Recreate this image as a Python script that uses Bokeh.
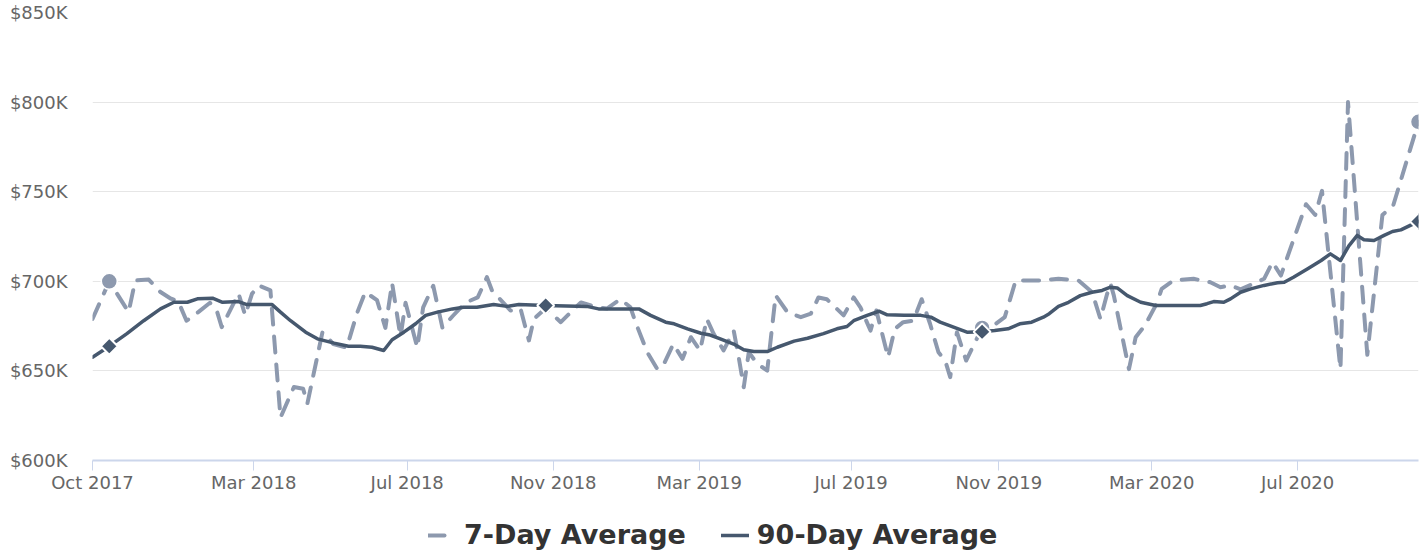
import math
from bokeh.plotting import figure
from bokeh.layouts import column
from bokeh.models import (Range1d, FixedTicker, PrintfTickFormatter, Legend,
                          LegendItem, ColumnDataSource)
from bokeh.embed import file_html
from bokeh.resources import INLINE

# ---- data (x = week index from start of Oct 2017, y = price in $K) ----
week_7day = [
    0, 2, 4.3, 5.1, 6.7, 8.1, 9.3, 10.2, 11.2, 12.6,
    14.0, 14.8, 15.4, 17.4, 18.2, 19.0, 19.8, 21.2, 22.4, 24.0,
    25.1, 25.6, 27.4, 28.7, 30.3, 31.5, 32.5, 33.9, 34.9, 35.7,
    36.7, 37.3, 38.7, 39.4, 40.6, 41.7, 42.9, 44.4, 45.9, 47.0,
    47.6, 49.8, 51.0, 52.0, 52.6, 54, 55.8, 57.0, 58.2, 60.1,
    61.3, 62.9, 64.1, 64.7, 66.1, 67.3, 68.0, 69.2, 70.3, 71.3,
    72.4, 73.2, 74.0, 75.2, 76.4, 77.0, 77.6, 78.2, 79.2, 80.4,
    81.4, 82.8, 84.4, 85.6, 86.5, 87.5, 89.5, 90.7, 91.5, 92.7,
    93.4, 94.0, 94.8, 95.6, 96.6, 97.8, 98.8, 99.8, 100.8, 101.6,
    102.2, 103.0, 104.1, 106, 107.1, 108.7, 110.0, 112.8, 115.1, 117.5,
    119.1, 120.1, 120.9, 121.3, 121.7, 123.5, 124.3, 125.4, 126.8, 127.4,
    128.8, 131.2, 133.2, 134.4, 135.6, 136.8, 139.6, 140.6, 141.6, 144.6,
    145.7, 146.5, 148.7, 149.6, 151.9, 153.7, 155.0, 158,
]
avg_7day = [
    679, 700, 682.8, 700.5, 701, 694, 690.4, 689, 678, 682.8,
    688, 683.7, 674.4, 693.2, 681, 693, 697.7, 694.9, 624, 641,
    640, 631.7, 671.6, 665, 663, 682, 694, 689.5, 674, 699,
    669, 688, 663, 685.5, 697.5, 674, 680.5, 688, 691, 702.3,
    694.9, 683.7, 684.8, 667, 679, 685, 677.2, 682.8, 688.2, 685.5,
    684.8, 690, 685.5, 677.2, 660.4, 651, 653, 665, 656.7, 668.8,
    661.4, 679, 670.8, 661.4, 672.5, 657.6, 640.9, 660.4, 654, 650.2,
    692.1, 682.8, 680, 682, 691, 690, 681, 691, 685.5, 672.5,
    683.7, 672.5, 657.6, 673.5, 677.2, 678, 690, 676.3, 660.4, 655.8,
    646.5, 671.6, 655.8, 674, 674.4, 680, 700.4, 700.4, 701.4, 700.4,
    694, 679, 693, 698.6, 692, 651, 668.8, 675.3, 687.5, 695.8,
    700.4, 701.4, 699.5, 696.7, 697.7, 695.5, 701.4, 710.7, 703.2, 743,
    737, 750.5, 651, 800, 659, 737, 742.5, 789,
]
week_90day = [
    0, 2, 4.1, 6.1, 8.1, 9.7, 11.3, 12.5, 14.3, 15.5,
    17.4, 18.4, 21.4, 22.4, 23.6, 25.4, 26.8, 28.8, 30.5, 31.9,
    33.3, 34.7, 35.7, 37.1, 38.5, 39.7, 41.1, 42.9, 44.2, 45.8,
    47.8, 49.4, 50.8, 54, 58.9, 60.3, 62.3, 65.1, 66.5, 68.3,
    69.3, 70.9, 72.5, 73.6, 74.8, 76.4, 77.6, 78.8, 80.4, 81.6,
    83.6, 85.2, 87.1, 88.7, 89.9, 90.7, 92.3, 93.7, 94.7, 96.7,
    98.7, 99.9, 101.0, 102.6, 104.2, 106, 107.5, 109.1, 110.5, 111.9,
    113.3, 114.0, 115.1, 116.3, 117.7, 119.1, 120.3, 121.3, 122.1, 123.3,
    124.9, 126.7, 128.8, 132.0, 132.8, 133.6, 134.8, 135.6, 136.8, 138.0,
    139.6, 141.2, 142.0, 143.1, 144.8, 146.4, 147.5, 148.7, 149.7, 150.7,
    151.5, 152.7, 153.9, 154.9, 155.9, 158,
]
avg_90day = [
    657.6, 663.8, 670.8, 678, 684.6, 688.3, 688.3, 690.2, 690.6, 688.3,
    688.7, 687, 687, 682.8, 678, 671.6, 667.9, 665.5, 663.8, 663.8,
    663.2, 661.4, 667.4, 671.6, 676.3, 681, 682.8, 684.6, 685.5, 685.5,
    687, 686, 687, 686.5, 686, 684.6, 684.6, 684.6, 681, 677.2,
    676.3, 673.5, 671, 670, 667.9, 665, 661.8, 660.8, 660.8, 663.2,
    666.6, 668.2, 670.8, 673.5, 674.8, 678, 681, 683.3, 681.3, 681,
    681, 680, 677.2, 674.4, 671.6, 671.8, 672.5, 673.5, 676.3, 677.2,
    680, 681.9, 686, 688.3, 692, 693.9, 694.9, 696.7, 696.3, 692,
    688.3, 686.5, 686.5, 686.5, 687.5, 688.7, 688.3, 690.2, 693.9, 695.8,
    697.7, 699.2, 699.5, 702.3, 707, 711.6, 715.3, 711.6, 719.8, 725.6,
    723.2, 722.8, 725.6, 727.8, 728.7, 733.4,
]
# highlighted points
mark_7day_weeks = [2, 106, 158]
mark_7day_vals = [700, 674, 789]
mark_90day_weeks = [2, 54, 106, 158]
mark_90day_vals = [663.8, 686.5, 671.8, 733.4]

# axes
tick_weeks = [0, 19.2, 37.5, 54.9, 72.3, 90.4, 108.0, 126.2, 143.6]
tick_labels = ["Oct 2017", "Mar 2018", "Jul 2018", "Nov 2018", "Mar 2019",
               "Jul 2019", "Nov 2019", "Mar 2020", "Jul 2020"]
y_ticks = [600, 650, 700, 750, 800, 850]
series_names = ["7-Day Average", "90-Day Average"]

assert len(week_7day) == len(avg_7day)
assert len(week_90day) == len(avg_90day)

C7 = "#8D99AE"
C90 = "#46586E"
FONT = "DejaVu Sans"
W7 = dict(line_color=C7, line_width=4, line_dash="16 12",
          line_cap="round", line_join="round")
W90 = dict(line_color=C90, line_width=3.5, line_join="round", line_cap="round")

p = figure(width=1428, height=500, output_backend="svg", toolbar_location=None,
           x_range=Range1d(0, 158), y_range=Range1d(600, 850),
           min_border_left=92, min_border_right=10, min_border_top=12,
           min_border_bottom=40)
p.outline_line_color = None
p.background_fill_color = "white"
p.border_fill_color = "white"

src7 = ColumnDataSource(dict(w=week_7day, v=avg_7day))
src90 = ColumnDataSource(dict(w=week_90day, v=avg_90day))

p.line("w", "v", source=src7, **W7)
p.scatter(mark_7day_weeks, mark_7day_vals, marker="circle", size=16,
          fill_color=C7, line_color="white", line_width=1.5)
p.line("w", "v", source=src90, **W90)
p.scatter(mark_90day_weeks, mark_90day_vals, marker="square", angle=math.pi / 4,
          size=12, fill_color=C90, line_color="white", line_width=2)

# x axis
xa = p.xaxis[0]
xa.ticker = FixedTicker(ticks=tick_weeks)
xa.major_label_overrides = dict(zip(tick_weeks, tick_labels))
xa.axis_line_color = "#ccd6eb"
xa.axis_line_width = 2
xa.major_tick_line_color = "#ccd6eb"
xa.major_tick_out = 10
xa.major_tick_in = 0
xa.minor_tick_line_color = None
xa.major_label_standoff = 1
xa.major_label_text_font = FONT
xa.major_label_text_font_size = "18px"
xa.major_label_text_color = "#666666"

# y axis
ya = p.yaxis[0]
ya.ticker = FixedTicker(ticks=y_ticks)
ya.formatter = PrintfTickFormatter(format="$%dK")
ya.axis_line_color = None
ya.major_tick_line_color = None
ya.minor_tick_line_color = None
ya.major_tick_out = 0
ya.major_tick_in = 0
ya.major_label_standoff = 25
ya.major_label_text_font = FONT
ya.major_label_text_font_size = "18px"
ya.major_label_text_color = "#666666"

p.xgrid.grid_line_color = None
p.ygrid.grid_line_color = "#e6e6e6"
p.ygrid.grid_line_width = 1

# legend strip below the chart (legend glyph renderers sit outside its view)
pl = figure(width=1428, height=52, output_backend="svg", toolbar_location=None,
            x_range=Range1d(0, 1), y_range=Range1d(0, 1),
            x_axis_location=None, y_axis_location=None,
            min_border_left=0, min_border_right=0, min_border_top=0,
            min_border_bottom=0)
pl.outline_line_color = None
pl.xgrid.grid_line_color = None
pl.ygrid.grid_line_color = None
g7 = pl.line(x=[5, 6], y=[5, 5], **W7)
g90 = pl.line(x=[5, 6], y=[5, 5], **W90)

legend = Legend(items=[LegendItem(label=series_names[0], renderers=[g7]),
                       LegendItem(label=series_names[1], renderers=[g90])],
                orientation="horizontal", location=(336, 2),
                glyph_width=28, glyph_height=20, label_standoff=8, spacing=35,
                padding=0, margin=0, border_line_alpha=0,
                background_fill_alpha=0,
                label_text_font=FONT, label_text_font_size="27px",
                label_text_font_style="bold", label_text_color="#333333")
pl.add_layout(legend, "center")

layout = column(p, pl, spacing=0)
open("out.html", "w").write(file_html(layout, INLINE))
